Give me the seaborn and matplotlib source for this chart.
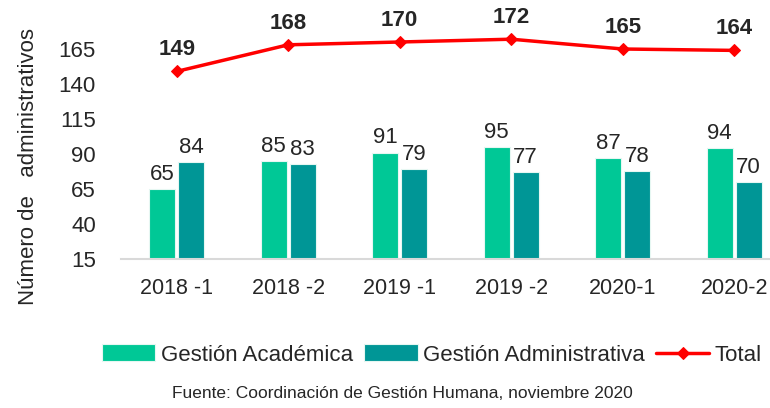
import matplotlib
matplotlib.use("Agg")
import matplotlib.pyplot as plt
import seaborn as sns
import pandas as pd

periods = ["2018 -1", "2018 -2", "2019 -1", "2019 -2", "2020-1", "2020-2"]
academica = [65, 85, 91, 95, 87, 94]
administrativa = [84, 83, 79, 77, 78, 70]
total = [149, 168, 170, 172, 165, 164]
yticks = [15, 40, 65, 90, 115, 140, 165]

sns.set_theme(style="white")
plt.rcParams["font.family"] = ["Liberation Sans", "DejaVu Sans"]

c_acad = "#00C896"
c_adm = "#009696"
c_tot = "#FF0000"

df = pd.DataFrame({
    "Periodo": periods * 2,
    "Valor": academica + administrativa,
    "Serie": ["Gestión Académica"] * len(periods) + ["Gestión Administrativa"] * len(periods),
})

fig = plt.figure(figsize=(7.7, 4.08), dpi=100)
ax = fig.add_axes([121 / 770, (408 - 259) / 408, 669 / 770, 238 / 408])

sns.barplot(data=df, x="Periodo", y="Valor", hue="Serie", order=periods,
            palette=[c_acad, c_adm], saturation=1, width=0.52, gap=0.12, ax=ax,
            edgecolor="#E6F7F2", linewidth=0.8, legend=True)

tdf = pd.DataFrame({"Periodo": periods, "Total": total})
sns.lineplot(data=tdf, x="Periodo", y="Total", color=c_tot, marker="D",
             markersize=6, linewidth=2.5, markeredgecolor=c_tot, ax=ax, label="Total",
             sort=False)

ax.set_ylim(15, 185)
ax.set_xlim(-0.5, 5.5)
ax.set_yticks(yticks)
ax.set_yticklabels([str(v) for v in yticks], fontsize=16)
ax.tick_params(axis="y", length=0, pad=18)
ax.tick_params(axis="x", length=0, pad=14, labelsize=15.5)
for s in ["top", "right", "left"]:
    ax.spines[s].set_visible(False)
ax.spines["bottom"].set_color("#D9D9D9")
ax.spines["bottom"].set_linewidth(1.5)
ax.set_xlabel("")
ax.set_ylabel("Número de   administrativos", fontsize=16)
ax.yaxis.set_label_coords(-0.123, 0.39)

for cont in ax.containers:
    ax.bar_label(cont, fontsize=16, padding=3)

for i, v in enumerate(total):
    ax.annotate(str(v), (i, v), xytext=(0, 8), textcoords="offset points",
                ha="center", va="bottom", fontsize=16, fontweight="bold",
                annotation_clip=False)

handles, labels = ax.get_legend_handles_labels()
ax.legend(handles, labels, loc="center", bbox_to_anchor=(432 / 770, (408 - 355) / 408),
          bbox_transform=fig.transFigure, ncol=3, frameon=False, fontsize=16,
          handlelength=2.4, handleheight=0.8, handletextpad=0.25, columnspacing=0.5)

fig.text(402 / 770, (408 - 394) / 408, "Fuente: Coordinación de Gestión Humana, noviembre 2020",
         ha="center", va="center", fontsize=12.5)

fig.savefig("out.png", dpi=100)
